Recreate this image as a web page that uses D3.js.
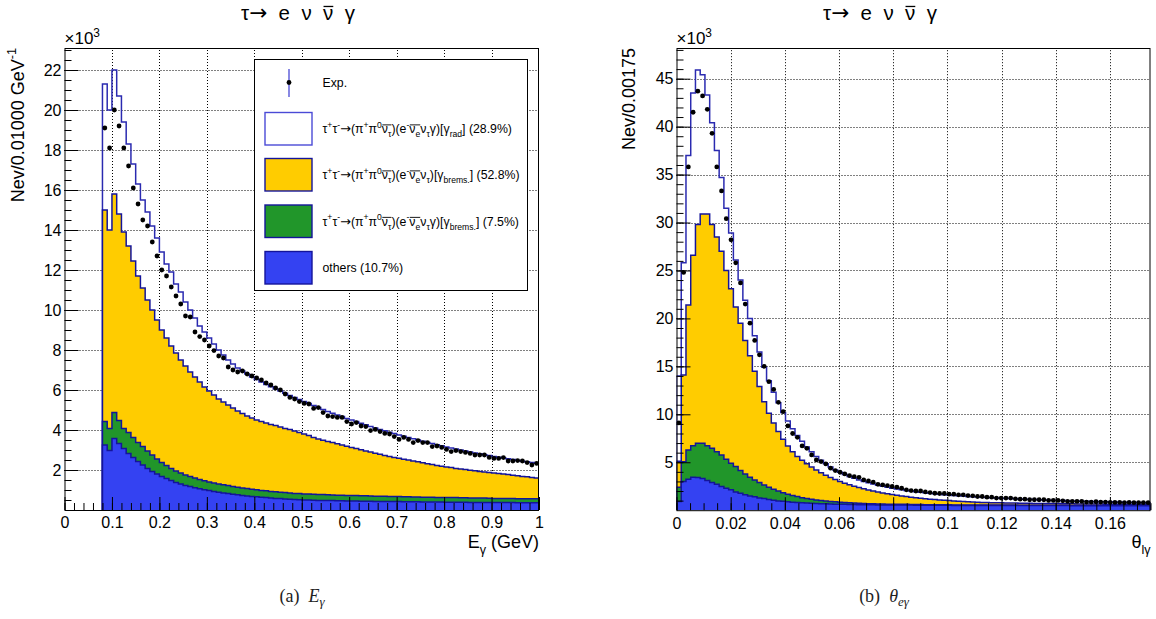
<!DOCTYPE html>
<html><head><meta charset="utf-8">
<script src="https://cdn.jsdelivr.net/npm/d3@7"></script>
<style>
body{margin:0;background:#fff}
svg{display:block}
text{font-family:"Liberation Sans",Arial,Helvetica,sans-serif;fill:#000}
</style></head><body>
<svg id="c" width="1156" height="619"></svg>
<script>
// ---------------- DATA (values in units of 10^3 events) ----------------
// Panel (a): E_gamma, bins of 0.01 GeV starting at 0.08 GeV
const eBinLow = 0.08, eBinWidth = 0.01;
const eOthers = [3.25,2.97,3.58,3.33,3.08,2.83,2.63,2.42,2.25,2.08, 1.93,1.80,1.68,1.57,1.47,1.38,1.30,1.23,1.17,1.11, 1.06,1.01,0.97,0.93,0.89,0.85,0.82,0.79,0.76,0.73, 0.70,0.68,0.66,0.64,0.62,0.60,0.58,0.57,0.55,0.54, 0.52,0.51,0.50,0.50,0.49,0.48,0.48,0.47,0.47,0.46, 0.46,0.45,0.45,0.45,0.44,0.44,0.44,0.43,0.43,0.43, 0.42,0.42,0.42,0.41,0.41,0.41,0.41,0.40,0.40,0.40, 0.40,0.40,0.39,0.39,0.39,0.39,0.39,0.38,0.38,0.38, 0.38,0.38,0.37,0.37,0.37,0.37,0.37,0.36,0.36,0.36, 0.36,0.36];
const eBremsRad = [1.17,1.11,1.30,1.14,1.00,1.04,1.00,0.96,0.92,0.87, 0.82,0.75,0.70,0.65,0.61,0.57,0.55,0.52,0.50,0.49, 0.46,0.45,0.43,0.42,0.41,0.41,0.40,0.39,0.38,0.37, 0.37,0.36,0.35,0.34,0.34,0.33,0.33,0.32,0.32,0.31, 0.31,0.31,0.30,0.30,0.30,0.29,0.29,0.29,0.28,0.28, 0.28,0.28,0.27,0.27,0.27,0.27,0.26,0.26,0.26,0.26, 0.25,0.25,0.25,0.25,0.25,0.24,0.24,0.24,0.24,0.24, 0.23,0.23,0.23,0.23,0.23,0.22,0.22,0.22,0.22,0.22, 0.22,0.21,0.21,0.21,0.21,0.21,0.21,0.20,0.20,0.20, 0.20,0.20];
const eBrems = [10.58,9.92,10.92,10.33,9.82,9.33,8.82,8.32,7.93,7.55, 7.25,6.95,6.62,6.38,6.12,5.90,5.65,5.45,5.23,5.05, 4.88,4.69,4.55,4.40,4.25,4.14,4.03,3.92,3.81,3.72, 3.63,3.56,3.49,3.44,3.39,3.35,3.31,3.26,3.21,3.17, 3.12,3.05,3.00,2.92,2.84,2.78,2.72,2.67,2.62,2.57, 2.51,2.46,2.41,2.35,2.30,2.24,2.20,2.15,2.10,2.04, 2.01,1.96,1.92,1.88,1.84,1.80,1.76,1.72,1.67,1.63, 1.59,1.56,1.53,1.50,1.46,1.44,1.41,1.39,1.36,1.33, 1.30,1.28,1.27,1.24,1.22,1.19,1.16,1.15,1.12,1.10, 1.07,1.04];
const eRad = [6.3,6.0,6.2,5.9,5.5,5.1,4.85,4.6,4.4,4.4, 4.2,4.1,3.9,3.7,3.7,3.45,3.4,3.2,3.1,2.95, 2.8,2.75,2.65,2.55,2.45,2.35,2.25,2.2,2.15,2.13, 2.1,2.05,2.02,1.98,1.93,1.88,1.83,1.8,1.76,1.71, 1.67,1.65,1.62,1.6,1.59,1.57,1.53,1.5,1.47,1.44, 1.42,1.39,1.37,1.35,1.33,1.31,1.28,1.26,1.24,1.23, 1.21,1.19,1.16,1.15,1.12,1.11,1.09,1.08,1.07,1.05, 1.04,1.02,1.0,0.98,0.97,0.95,0.93,0.91,0.89,0.88, 0.86,0.85,0.83,0.82,0.8,0.79,0.78,0.77,0.76,0.75, 0.74,0.74];
const eExp = [19.1,18.1,20.0,19.2,18.1,17.2,16.1,15.3,14.5,14.2, 13.4,12.7,12.0,11.7,11.15,10.7,10.3,9.7,9.65,8.9, 8.67,8.5,8.2,7.97,7.7,7.6,7.15,7.0,6.9,6.95, 6.8,6.7,6.6,6.5,6.35,6.25,6.1,6.0,5.8,5.63, 5.55,5.42,5.33,5.3,5.08,5.12,4.87,4.7,4.67,4.63, 4.63,4.42,4.3,4.37,4.2,4.17,3.97,4.03,3.92,3.83, 3.8,3.67,3.53,3.63,3.53,3.37,3.47,3.37,3.37,3.17, 3.2,3.13,3.03,2.92,2.97,2.92,2.88,2.83,2.75,2.75, 2.75,2.63,2.58,2.58,2.62,2.45,2.45,2.47,2.45,2.37, 2.25,2.33];
const eXTicks = [0,0.1,0.2,0.3,0.4,0.5,0.6,0.7,0.8,0.9,1];
const eXLabels = ["0","0.1","0.2","0.3","0.4","0.5","0.6","0.7","0.8","0.9","1"];
const eYTicks = [2,4,6,8,10,12,14,16,18,20,22];
const eYLabels = ["2","4","6","8","10","12","14","16","18","20","22"];

// Panel (b): theta_e-gamma, bins of 0.00175 starting at 0
const tBinLow = 0, tBinWidth = 0.00175;
const tOthers = [0.9,2.98,3.23,3.44,3.4,3.3,3.09,2.88,2.71,2.47, 2.3,2.12,1.91,1.77,1.6,1.49,1.39,1.28,1.21,1.11, 1.04,0.97,0.94,0.87,0.84,0.8,0.77,0.74,0.72,0.7, 0.68,0.66,0.64,0.63,0.62,0.61,0.6,0.59,0.58,0.57, 0.56,0.56,0.55,0.55,0.54,0.54,0.54,0.53,0.53,0.53, 0.52,0.52,0.52,0.52,0.51,0.51,0.51,0.51,0.5,0.5, 0.5,0.5,0.5,0.5,0.49,0.49,0.49,0.49,0.49,0.49, 0.49,0.49,0.48,0.48,0.48,0.48,0.48,0.48,0.48,0.48, 0.48,0.48,0.48,0.47,0.47,0.47,0.47,0.47,0.47,0.47, 0.47,0.47,0.47,0.47,0.47,0.47,0.47,0.47,0.47,0.47];
const tBremsRad = [1.5,2.08,3.05,3.29,3.57,3.67,3.64,3.57,3.39,3.29, 3.01,2.77,2.64,2.36,2.18,1.94,1.77,1.6,1.42,1.28, 1.14,1.03,0.89,0.79,0.68,0.62,0.54,0.47,0.42,0.37, 0.33,0.3,0.27,0.24,0.21,0.19,0.17,0.15,0.14,0.13, 0.12,0.11,0.1,0.1,0.09,0.09,0.08,0.08,0.08,0.07, 0.07,0.07,0.06,0.06,0.06,0.06,0.05,0.05,0.05,0.05, 0.05,0.05,0.05,0.05,0.04,0.04,0.04,0.04,0.04,0.04, 0.04,0.04,0.04,0.04,0.04,0.04,0.04,0.04,0.04,0.04, 0.04,0.04,0.03,0.03,0.03,0.03,0.03,0.03,0.03,0.03, 0.03,0.03,0.03,0.03,0.03,0.03,0.03,0.03,0.03,0.03];
const tBrems = [2.7,9.04,15.12,19.87,22.83,23.93,24.17,23.35,22.4,21.24, 19.69,18.21,16.65,15.37,13.92,12.67,11.34,10.02,8.67,7.71, 6.92,6.2,5.57,5.04,4.58,4.18,3.89,3.64,3.36,3.13, 2.89,2.69,2.51,2.33,2.17,2.02,1.89,1.76,1.64,1.53, 1.42,1.33,1.25,1.15,1.09,1.01,0.94,0.88,0.81,0.76, 0.71,0.66,0.62,0.57,0.54,0.5,0.47,0.44,0.42,0.39, 0.36,0.33,0.31,0.29,0.28,0.27,0.26,0.25,0.24,0.23, 0.22,0.21,0.21,0.2,0.2,0.19,0.19,0.18,0.18,0.17, 0.17,0.16,0.16,0.16,0.15,0.15,0.15,0.14,0.14,0.14, 0.13,0.13,0.13,0.13,0.12,0.12,0.12,0.12,0.11,0.11];
const tRad = [8.9,11.7,15.6,16.9,16.1,14.5,12.4,10.6,9.0,7.7, 6.5,5.8,4.9,4.5,4.2,3.9,3.7,3.6,3.6,3.4, 3.2,3.0,2.8,2.6,2.4,2.2,2.0,1.75,1.6,1.4, 1.3,1.2,1.08,1.0,0.95,0.9,0.86,0.83,0.8,0.77, 0.76,0.72,0.7,0.69,0.67,0.66,0.65,0.64,0.64,0.63, 0.63,0.62,0.61,0.61,0.6,0.59,0.59,0.58,0.57,0.56, 0.56,0.56,0.55,0.54,0.54,0.52,0.51,0.49,0.48,0.47, 0.46,0.45,0.44,0.43,0.41,0.4,0.38,0.37,0.35,0.35, 0.33,0.32,0.32,0.31,0.31,0.29,0.28,0.27,0.26,0.25, 0.25,0.24,0.23,0.22,0.22,0.21,0.2,0.19,0.19,0.18];
const tExp = [9.1,24.8,35.8,41.5,43.7,43.2,41.8,39.3,35.8,33.3, 30.4,28.2,25.8,23.7,21.5,19.5,17.7,16.2,15.0,13.4, 12.6,11.25,10.27,8.79,8.0,7.6,6.7,6.45,5.76,5.24, 5.07,4.83,4.38,4.13,3.96,3.78,3.6,3.5,3.43,3.16, 3.05,2.92,2.7,2.64,2.57,2.47,2.4,2.29,2.12,2.05, 2.0,2.0,1.91,1.84,1.77,1.74,1.74,1.67,1.67,1.6, 1.6,1.53,1.5,1.43,1.43,1.36,1.36,1.26,1.26,1.26, 1.26,1.19,1.15,1.15,1.09,1.09,1.09,1.09,1.02,1.02, 1.02,0.98,0.92,0.92,0.92,0.92,0.85,0.85,0.88,0.85, 0.85,0.81,0.81,0.81,0.78,0.81,0.78,0.78,0.78,0.78];
const tXTicks = [0,0.02,0.04,0.06,0.08,0.1,0.12,0.14,0.16];
const tXLabels = ["0","0.02","0.04","0.06","0.08","0.1","0.12","0.14","0.16"];
const tYTicks = [5,10,15,20,25,30,35,40,45];
const tYLabels = ["5","10","15","20","25","30","35","40","45"];

const seriesKeys = ["others","bremsRad","brems","rad"];
const titleParts = [["\u03c4",""],["\u2192","arrow"],["  e  \u03bd  ",""],["\u03bd","bar"],["  \u03b3",""]];

// ---------------- STYLE ----------------
const colors = {others:"#3442f2", bremsRad:"#21962a", brems:"#ffcc00", rad:"none"};
const lineCol = "#14149a", radLine = "#2a2ab0";

const svg = d3.select("#c");

function rich(sel, x, y, parts, fs, anchor) {
  const t = sel.append("text").attr("x", x).attr("y", y).attr("font-size", fs).style("white-space", "pre");
  if (anchor) t.attr("text-anchor", anchor);
  let shift = 0, idx = 0; const bars = [];
  parts.forEach(([s, m]) => {
    let target = 0, size = fs;
    if (m.includes("sup")) { target = -0.42 * fs; size = 0.7 * fs; }
    if (m.includes("sub")) { target = 0.34 * fs; size = 0.7 * fs; }
    const ts = t.append("tspan").attr("dy", target - shift).attr("font-size", size).text(s);
    if (m.includes("it")) ts.attr("font-style", "italic");
    if (m.includes("arrow")) ts.style("font-family", "'DejaVu Sans',sans-serif").attr("font-size", size * 1.05);
    shift = target;
    if (m.includes("bar")) {
      const last = bars[bars.length - 1];
      if (last && last[1] === idx - 1) last[1] = idx + s.length - 1;
      else bars.push([idx, idx + s.length - 1]);
    }
    idx += s.length;
  });
  const node = t.node();
  bars.forEach(([a, b]) => {
    const ea = node.getExtentOfChar(a), eb = node.getExtentOfChar(b);
    sel.append("line").attr("x1", ea.x + 0.5).attr("x2", eb.x + eb.width)
      .attr("y1", y - 0.66 * fs).attr("y2", y - 0.66 * fs)
      .attr("stroke", "#000").attr("stroke-width", fs > 16 ? 1.3 : 0.9);
  });
  return t;
}

function panel(p) {
  const g = svg.append("g");
  const x = d3.scaleLinear().domain(p.xDom).range([p.left, p.right]);
  const y = d3.scaleLinear().domain(p.yDom).range([p.bottom, p.top]);

  // grid
  const grid = g.append("g").attr("stroke", "#000").attr("stroke-width", 1).attr("stroke-dasharray", "1,2");
  p.xTicks.filter(v => v > p.xDom[0] && v < p.xDom[1]).forEach(v => {
    const xx = Math.round(x(v)) + 0.5;
    grid.append("line").attr("x1", xx).attr("x2", xx).attr("y1", p.bottom).attr("y2", p.top);
  });
  p.yTicks.forEach(v => {
    const yy = Math.round(y(v)) + 0.5;
    grid.append("line").attr("x1", p.left).attr("x2", p.right).attr("y1", yy).attr("y2", yy);
  });

  // stacked histograms
  const n = p.series.others.length;
  const rows = d3.range(n).map(i => {
    const r = {};
    seriesKeys.forEach(k => r[k] = p.series[k][i]);
    return r;
  });
  const stacked = d3.stack().keys(seriesKeys)(rows);
  const edge = i => p.binLow + i * p.binW;
  const line = d3.line().x(d => x(d[0])).y(d => y(d[1])).curve(d3.curveStepAfter);
  const clipId = "clip" + p.id;
  g.append("clipPath").attr("id", clipId).append("rect")
    .attr("x", p.left).attr("y", p.top).attr("width", p.right - p.left).attr("height", p.bottom - p.top);
  const hg = g.append("g").attr("clip-path", `url(#${clipId})`);
  stacked.slice().reverse().forEach(layer => {
    const pts = [[edge(0), 0]];
    layer.forEach((d, i) => pts.push([edge(i), d[1]]));
    pts.push([edge(n), layer[n - 1][1]]);
    pts.push([edge(n), 0]);
    hg.append("path").attr("d", line(pts))
      .attr("fill", colors[layer.key])
      .attr("stroke", layer.key === "rad" ? radLine : lineCol)
      .attr("stroke-width", 1.5).attr("stroke-linejoin", "miter");
  });

  // data points
  g.append("g").selectAll("circle").data(p.exp).join("circle")
    .attr("cx", (d, i) => x(p.binLow + (i + 0.5) * p.binW))
    .attr("cy", d => y(d)).attr("r", 2.4).attr("fill", "#000");

  // frame
  g.append("rect").attr("x", p.left + 0.5).attr("y", p.top + 0.5)
    .attr("width", p.right - p.left - 1).attr("height", p.bottom - p.top)
    .attr("fill", "none").attr("stroke", "#000").attr("stroke-width", 1);

  // axes
  const styleAxis = a => { a.select(".domain").remove(); a.attr("font-family", null).attr("font-size", null); a.selectAll("line").attr("stroke", "#000"); };
  const xa = g.append("g").attr("transform", `translate(0,${p.bottom})`)
    .call(d3.axisBottom(x).tickValues(p.xTicks).tickSize(-13).tickPadding(7).tickFormat((d, i) => p.xLabels[i]));
  styleAxis(xa); xa.selectAll("text").attr("font-size", 16);
  const xm = g.append("g").attr("transform", `translate(0,${p.bottom})`)
    .call(d3.axisBottom(x).tickValues(d3.range(p.xDom[0], p.xDom[1] + 1e-9, p.xMinor)).tickSize(-7).tickFormat(""));
  styleAxis(xm);
  const ya = g.append("g").attr("transform", `translate(${p.left},0)`)
    .call(d3.axisLeft(y).tickValues(p.yTicks).tickSize(-14).tickPadding(3).tickFormat((d, i) => p.yLabels[i]));
  styleAxis(ya); ya.selectAll("text").attr("font-size", 16);
  const ym = g.append("g").attr("transform", `translate(${p.left},0)`)
    .call(d3.axisLeft(y).tickValues(d3.range(p.yMinor, p.yDom[1], p.yMinor)).tickSize(-7).tickFormat(""));
  styleAxis(ym);

  // exponent
  rich(g, p.left, 44, [["\u00d710", ""], ["3", "sup"]], 17);
  // y title
  const yt = g.append("g").attr("transform", `translate(${p.yTitleX},${p.top}) rotate(-90)`);
  rich(yt, 0, 0, p.yTitle, 18, "end");
  // x title
  rich(g, p.right, 548, p.xTitle, 18, "end");
  // title
  rich(g, p.titleX, 20, titleParts, 20.5, "middle");
  // caption
  const cap = g.append("text").attr("x", p.titleX + 4).attr("y", 602).attr("text-anchor", "middle")
    .attr("font-size", 18).style("font-family", "'Liberation Serif','DejaVu Serif',serif").style("fill", "#222");
  p.caption.forEach(([s, m]) => {
    const ts = cap.append("tspan").text(s);
    if (m.includes("it")) ts.attr("font-style", "italic").attr("dx", 9);
    if (m.includes("sub")) ts.attr("font-size", 13).attr("dy", 4).attr("dx", 0);
  });
  return {x, y};
}

panel({id: "a", left: 64.5, right: 539, top: 48, bottom: 510, xDom: [0, 1], yDom: [0, 23.1],
  binLow: eBinLow, binW: eBinWidth,
  series: {others: eOthers, bremsRad: eBremsRad, brems: eBrems, rad: eRad}, exp: eExp,
  xTicks: eXTicks, xLabels: eXLabels, xMinor: 0.02, yTicks: eYTicks, yLabels: eYLabels, yMinor: 0.5,
  yTitleX: 24, yTitle: [["Nev/0.01000 GeV", ""], ["-1", "sup"]],
  xTitle: [["E", ""], ["\u03b3", "sub"], [" (GeV)", ""]],
  titleX: 298, caption: [["(a)", ""], ["E", "it"], ["\u03b3", "it sub"]]});

panel({id: "b", left: 676.5, right: 1150.5, top: 48, bottom: 510.2, xDom: [0, 0.175], yDom: [0, 48.2],
  binLow: tBinLow, binW: tBinWidth,
  series: {others: tOthers, bremsRad: tBremsRad, brems: tBrems, rad: tRad}, exp: tExp,
  xTicks: tXTicks, xLabels: tXLabels, xMinor: 0.005, yTicks: tYTicks, yLabels: tYLabels, yMinor: 1,
  yTitleX: 635, yTitle: [["Nev/0.00175", ""]],
  xTitle: [["\u03b8", ""], ["l\u03b3", "sub"]],
  titleX: 880, caption: [["(b)", ""], ["\u03b8", "it"], ["e\u03b3", "it sub"]]});

// ---------------- LEGEND ----------------
const lg = svg.append("g");
lg.append("rect").attr("x", 254.5).attr("y", 59.5).attr("width", 273).attr("height", 231)
  .attr("fill", "#fff").attr("stroke", "#000").attr("stroke-width", 1);
lg.append("line").attr("x1", 289).attr("x2", 289).attr("y1", 69).attr("y2", 97).attr("stroke", "#3a3ad0").attr("stroke-width", 1.2);
lg.append("circle").attr("cx", 289).attr("cy", 82.5).attr("r", 2.4).attr("fill", "#000");
rich(lg, 322.5, 86.5, [["Exp.", ""]], 12.3);
const legendLabels = [
  [["\u03c4",""],["+","sup"],["\u03c4",""],["-","sup"],["\u2192","arrow"],["(\u03c0",""],["+","sup"],["\u03c0",""],["0","sup"],["\u03bd","bar"],["\u03c4","barsub"],[")(e",""],["-","sup"],["\u03bd","bar"],["e","barsub"],["\u03bd",""],["\u03c4","sub"],["\u03b3)[\u03b3",""],["rad","sub"],["] (28.9%)",""]],
  [["\u03c4",""],["+","sup"],["\u03c4",""],["-","sup"],["\u2192","arrow"],["(\u03c0",""],["+","sup"],["\u03c0",""],["0","sup"],["\u03bd","bar"],["\u03c4","barsub"],[")(e",""],["-","sup"],["\u03bd","bar"],["e","barsub"],["\u03bd",""],["\u03c4","sub"],[")[\u03b3",""],["brems.","sub"],["] (52.8%)",""]],
  [["\u03c4",""],["+","sup"],["\u03c4",""],["-","sup"],["\u2192","arrow"],["(\u03c0",""],["+","sup"],["\u03c0",""],["0","sup"],["\u03bd","bar"],["\u03c4","barsub"],[")(e",""],["-","sup"],["\u03bd","bar"],["e","barsub"],["\u03bd",""],["\u03c4","sub"],["\u03b3)[\u03b3",""],["brems.","sub"],["] (7.5%)",""]],
  [["others (10.7%)",""]]
];
const legendKeys = ["rad","brems","bremsRad","others"];
const rowTop = [112.5, 158.5, 205, 251.5];
legendKeys.forEach((k, i) => {
  lg.append("rect").attr("x", 265).attr("y", rowTop[i]).attr("width", 47).attr("height", 32.5)
    .attr("fill", k === "rad" ? "#fff" : colors[k]).attr("stroke", k === "rad" ? "#4a4ad6" : lineCol).attr("stroke-width", 1.4);
  rich(lg, 322.5, rowTop[i] + 20.5, legendLabels[i], 12.3);
});
</script>
</body></html>
